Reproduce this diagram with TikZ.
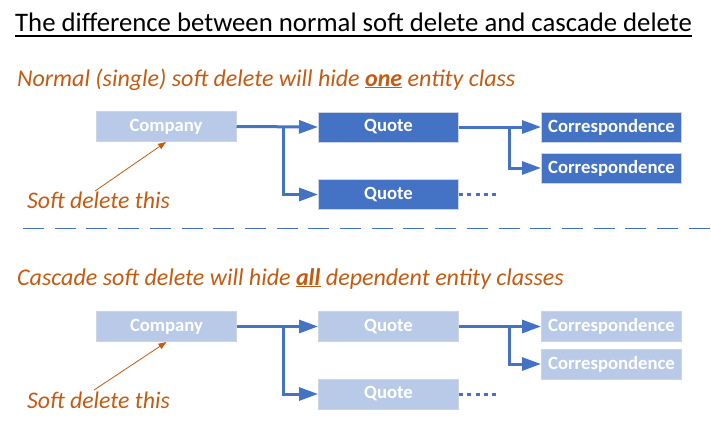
\documentclass[tikz,border=0pt]{standalone}
\usepackage{fontspec}
\setmainfont{Carlito}
\usetikzlibrary{arrows.meta}
\definecolor{dblue}{HTML}{4472C4}
\definecolor{lblue}{HTML}{B9CAE9}
\definecolor{orng}{HTML}{C55A11}
\definecolor{bord}{HTML}{CDD5E2}
\begin{document}
\begin{tikzpicture}[x=1pt,y=-1pt,
  box/.style={draw=bord, line width=1pt, minimum width=140pt, minimum height=30pt, inner sep=0pt,
    font=\fontsize{18.7}{18.7}\selectfont\bfseries, text=white},
  dbox/.style={box, fill=dblue},
  lbox/.style={box, fill=lblue},
  conn/.style={draw=dblue, line width=3pt, line join=miter, -{Triangle[length=19pt,width=13pt]}},
  dotline/.style={draw=dblue, line width=3pt, dash pattern=on 4pt off 4.3pt},
  pointer/.style={draw=orng, line width=0.8pt, -{Triangle[length=8pt,width=6pt]}},
  sub/.style={anchor=base west, inner sep=0pt, text=orng, font=\fontsize{24}{24}\selectfont\itshape},
  note/.style={anchor=base west, inner sep=0pt, text=orng, font=\fontsize{23.8}{23.8}\selectfont\itshape},
]
\useasboundingbox (0,0) rectangle (711,428);

% title
\node[anchor=base west, inner sep=0pt, font=\fontsize{26.75}{26.75}\selectfont] (title) at (15,32)
  {The difference between normal soft delete and cascade delete};
\draw[line width=1.4pt] ([yshift=-4pt]title.base west) -- ([yshift=-4pt]title.base east);

% ---------- upper diagram ----------
\node[sub] (sub1) at (17,86) {Normal (single) soft delete will hide \textbf{\underline{one}} entity class};

\node[lbox] (c1) at (166,126.5) {Company};
\node[dbox] (q1) at (388.5,127) {Quote};
\node[dbox] (q2) at (388.5,194.5) {Quote};
\node[dbox] (r1) at (611.5,127) {Correspondence};
\node[dbox] (r2) at (611.5,168) {Correspondence};

\coordinate (b1) at (283,126.5);
\coordinate (b2) at (509,127);
\coordinate (d1) at (498,194.5);
\draw[conn] (c1.east) -- (q1.west);
\draw[conn] ([yshift=-1.5pt]b1) |- (q2.west);
\draw[conn] (q1.east) -- (r1.west);
\draw[conn] ([yshift=-1.5pt]b2) |- (r2.west);
\draw[dotline] (q2.east) -- (d1);

\node[note] (n1) at (27,208) {Soft delete this};
\coordinate (p1) at (95,191);
\draw[pointer] (p1) -- (c1.south);

% separator
\coordinate (s0) at (23,228.5);
\coordinate (s1) at (711,228.5);
\draw[dblue, line width=1.2pt, dash pattern=on 21pt off 10.7pt] (s0) -- (s1);

% ---------- lower diagram ----------
\node[sub] (sub2) at (17,285) {Cascade soft delete will hide \textbf{\underline{all}} dependent entity classes};

\node[lbox] (c2) at (166.5,326.5) {Company};
\node[lbox] (q3) at (388.5,326.5) {Quote};
\node[lbox] (q4) at (388.5,394) {Quote};
\node[lbox] (r3) at (611.5,326.5) {Correspondence};
\node[lbox] (r4) at (611.5,364) {Correspondence};

\coordinate (b3) at (283,326.5);
\coordinate (b4) at (509,326.5);
\coordinate (d2) at (498,394);
\draw[conn] (c2.east) -- (q3.west);
\draw[conn] ([yshift=-1.5pt]b3) |- (q4.west);
\draw[conn] (q3.east) -- (r3.west);
\draw[conn] ([yshift=-1.5pt]b4) |- (r4.west);
\draw[dotline] (q4.east) -- (d2);

\node[note] (n2) at (27,408) {Soft delete this};
\coordinate (p2) at (94,390);
\draw[pointer] (p2) -- (c2.south);
\end{tikzpicture}
\end{document}
